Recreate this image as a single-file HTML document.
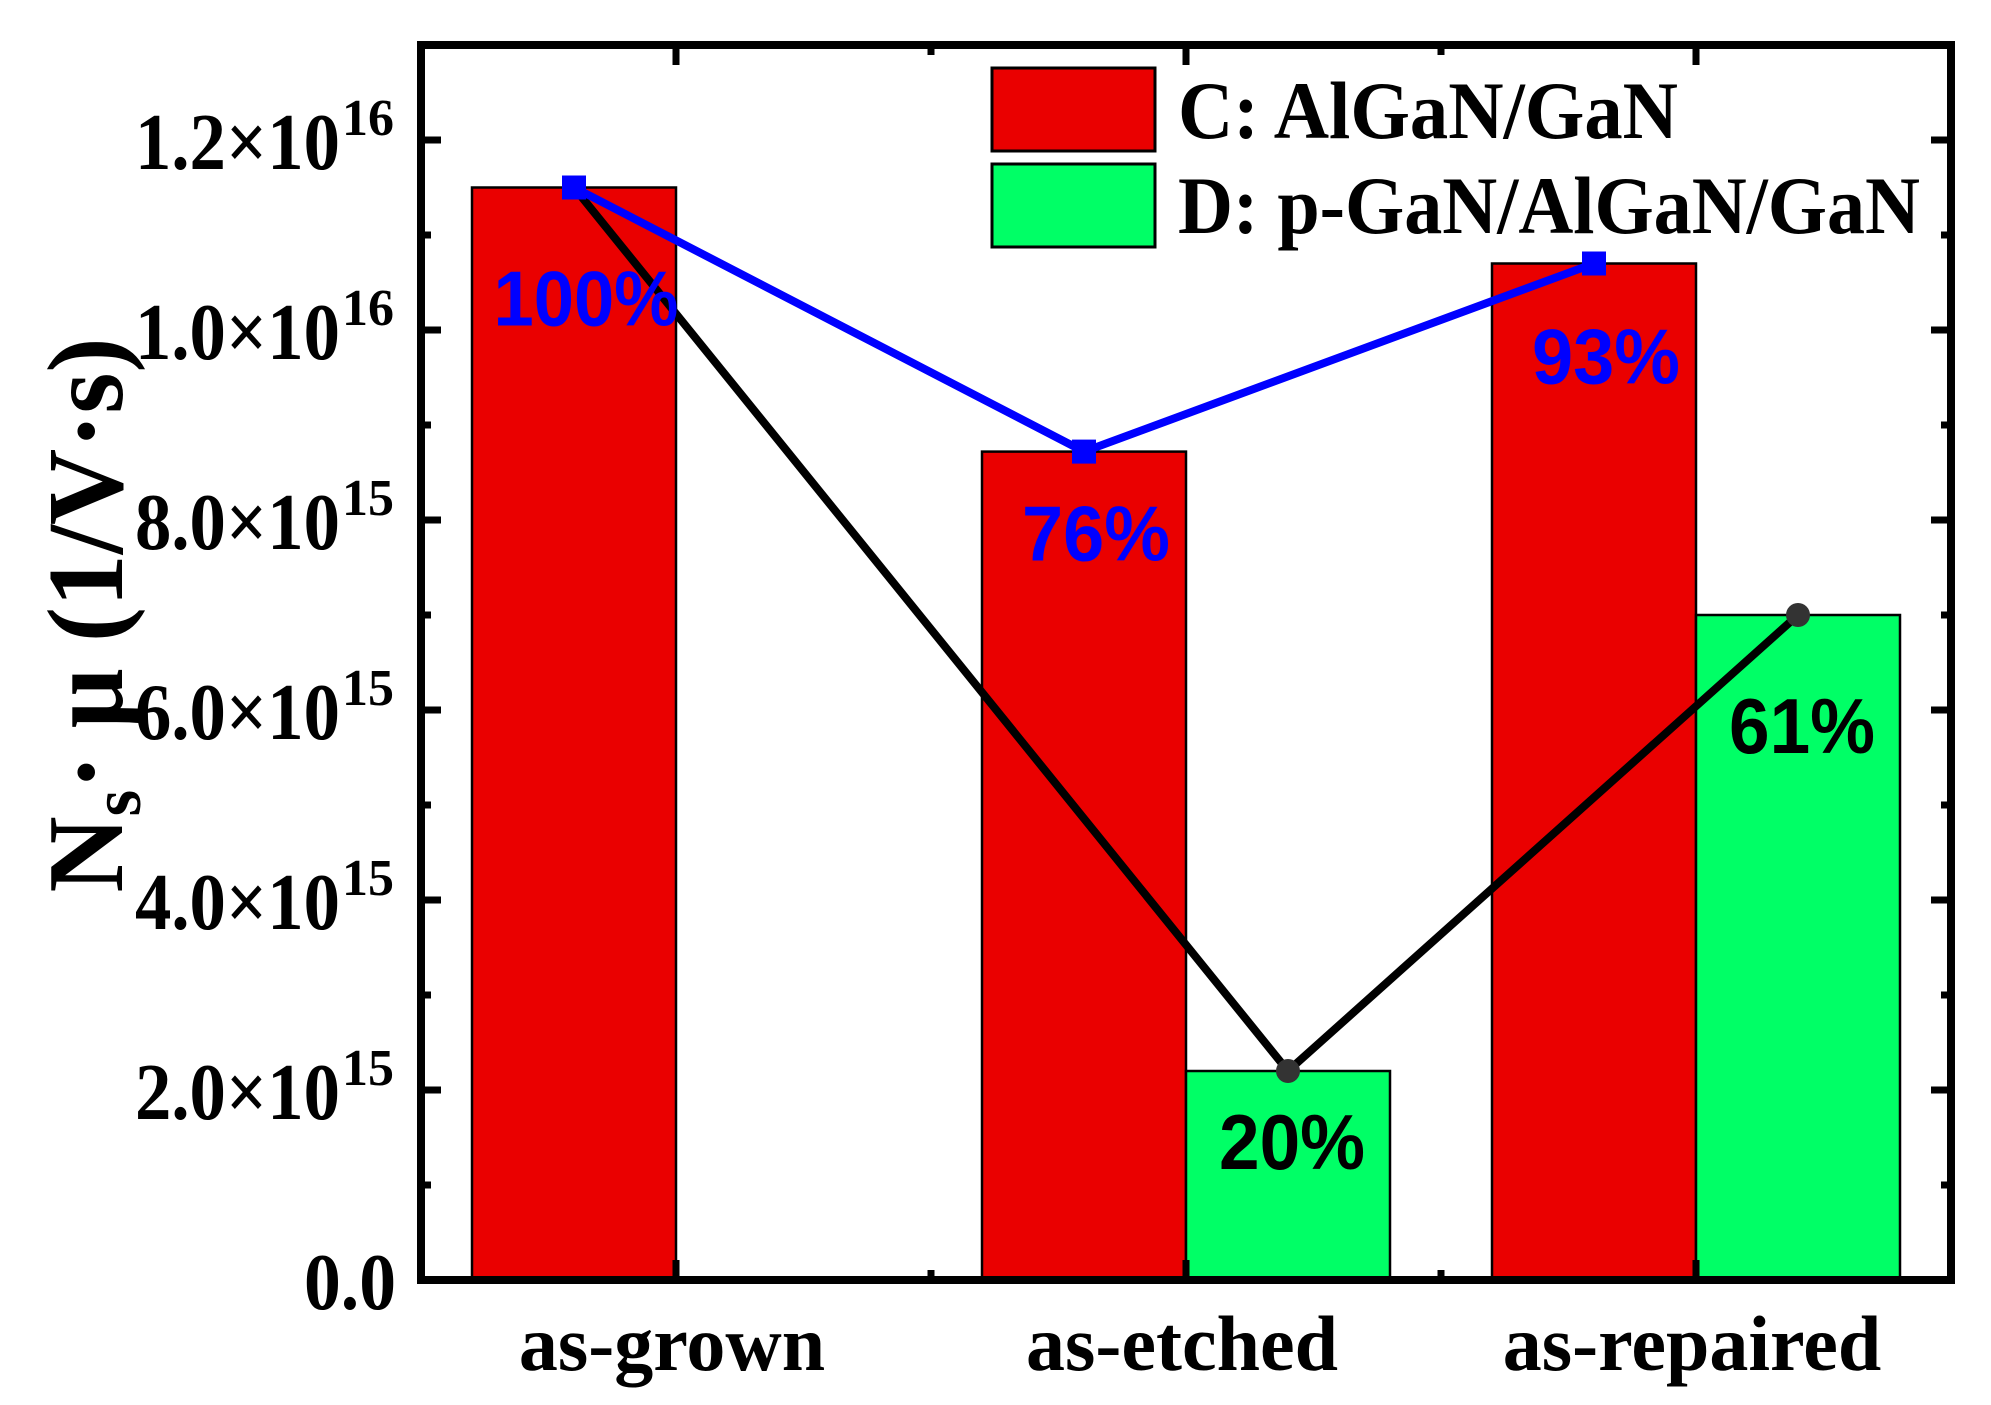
<!DOCTYPE html>
<html><head><meta charset="utf-8">
<style>
html,body{margin:0;padding:0;background:#fff;}
svg{display:block;}
text{font-family:"Liberation Serif",serif;font-weight:bold;}
.pct{font-family:"Liberation Sans",sans-serif;font-weight:bold;}
</style></head>
<body>
<svg id="chart" width="1991" height="1405" viewBox="0 0 1991 1405" xmlns="http://www.w3.org/2000/svg">
<g id="bars"></g>
<g id="lines"></g>
<g id="labels"></g>
<g id="axes"></g>
<g id="legend">
  <rect x="992" y="68" width="163" height="83" fill="#ea0000" stroke="#000" stroke-width="3"/>
  <text x="1178" y="138" font-size="82" textLength="500" lengthAdjust="spacingAndGlyphs">C: AlGaN/GaN</text>
  <rect x="992" y="164" width="163" height="83" fill="#00ff66" stroke="#000" stroke-width="3"/>
  <text x="1178" y="233" font-size="82" textLength="742" lengthAdjust="spacingAndGlyphs">D: p-GaN/AlGaN/GaN</text>
</g>
<text transform="translate(122,615) rotate(-90)" text-anchor="middle" font-size="108" textLength="555" lengthAdjust="spacingAndGlyphs">N<tspan font-size="70" dy="18">s</tspan><tspan dy="-18">· μ (1/V·s)</tspan></text>
</svg>
<script>
const categories = ["as-grown", "as-etched", "as-repaired"];
const seriesC = [11.5e15, 8.72e15, 10.7e15];
const seriesD = [null, 2.2e15, 7.0e15];
const blueLine = [11.5e15, 8.72e15, 10.7e15];
const blackLine = [11.5e15, 2.2e15, 7.0e15];
const blackLineSide = ["C", "D", "D"];
const pctBlue = ["100%", "76%", "93%"];
const pctBlack = [null, "20%", "61%"];
const yTicks = [0, 2e15, 4e15, 6e15, 8e15, 1e16, 1.2e16];
const yTickLabels = ["0.0", "2.0×10", "4.0×10", "6.0×10", "8.0×10", "1.0×10", "1.2×10"];
const yTickExp = ["", "15", "15", "15", "15", "16", "16"];

const NS = "http://www.w3.org/2000/svg";
const L = 421, R = 1951, T = 45, B = 1280;
const xMin = 0.5, xMax = 3.5, yMax = 1.3e16;
const blueLabelDy = [138, 109, 120];
const blackLabelDy = [0, 98, 138];
function x(v){ return L + (v - xMin) / (xMax - xMin) * (R - L); }
function y(v){ return B - v / yMax * (B - T); }
function mk(tag, attrs, parent){ const e = document.createElementNS(NS, tag); for (const k in attrs) e.setAttribute(k, attrs[k]); parent.appendChild(e); return e; }
const bw = 0.4;
const gBars = document.getElementById('bars');
categories.forEach((c, i) => {
  const cx = i + 1;
  const rc = mk('rect', {x: x(cx - bw), y: y(seriesC[i]), width: x(cx) - x(cx - bw), height: B - y(seriesC[i]), fill: '#ea0000', stroke: '#000', 'stroke-width': 2.5}, gBars);
  
  
  if (seriesD[i] !== null) {
    const rd = mk('rect', {x: x(cx), y: y(seriesD[i]), width: x(cx + bw) - x(cx), height: B - y(seriesD[i]), fill: '#00ff66', stroke: '#000', 'stroke-width': 2.5}, gBars);
    
    
  }
});
const gLines = document.getElementById('lines');
const bluePts = blueLine.map((v, i) => [x(i + 1 - bw / 2), y(v)]);
const blackPts = blackLine.map((v, i) => [x(i + 1 + (blackLineSide[i] === 'C' ? -bw / 2 : bw / 2)), y(v)]);
const blk = mk('polyline', {points: blackPts.map(p => p.join(',')).join(' '), fill: 'none', stroke: '#000', 'stroke-width': 8}, gLines);


blackPts.forEach((p, i) => { if (i > 0) { const c = mk('circle', {cx: p[0], cy: p[1], r: 12, fill: '#333'}, gLines);
  
   } });
const blu = mk('polyline', {points: bluePts.map(p => p.join(',')).join(' '), fill: 'none', stroke: '#0000ff', 'stroke-width': 8}, gLines);


bluePts.forEach(p => { const s = mk('rect', {x: p[0] - 12, y: p[1] - 12, width: 24, height: 24, fill: '#0000ff'}, gLines);
  
   });
const gLab = document.getElementById('labels');
pctBlue.forEach((t, i) => {
  const tx = mk('text', {x: x(i + 1 - bw / 2) + 12, y: y(blueLine[i]) + blueLabelDy[i], 'text-anchor': 'middle', 'font-size': 78, fill: '#0000ff', class: 'pct', textLength: t.length === 4 ? 185 : 148, lengthAdjust: 'spacingAndGlyphs'}, gLab);
  tx.textContent = t;
  
  
});
pctBlack.forEach((t, i) => {
  if (t === null) return;
  const tx = mk('text', {x: x(i + 1 + bw / 2) + 4, y: y(blackLine[i]) + blackLabelDy[i], 'text-anchor': 'middle', 'font-size': 78, fill: '#000', class: 'pct', textLength: 146, lengthAdjust: 'spacingAndGlyphs'}, gLab);
  tx.textContent = t;
  
  
});
const gAx = document.getElementById('axes');
const frame = mk('rect', {x: L, y: T, width: R - L, height: B - T, fill: 'none', stroke: '#000', 'stroke-width': 8}, gAx);


for (let k = 0; k <= 13; k++) {
  const v = k * 1e15, len = (k % 2 === 0) ? 20 : 10, yy = y(v);
  [[L, L + len], [R, R - len]].forEach(pr => { const tk = mk('line', {x1: pr[0], y1: yy, x2: pr[1], y2: yy, stroke: '#000', 'stroke-width': 7}, gAx);
    
     });
}
for (let k = 1; k <= 5; k++) {
  const xv = 0.5 + k * 0.5, len = (k % 2 === 1) ? 20 : 10, xx = x(xv);
  [[B, B - len], [T, T + len]].forEach(pr => { const tk = mk('line', {x1: xx, y1: pr[0], x2: xx, y2: pr[1], stroke: '#000', 'stroke-width': 7}, gAx);
    
     });
}
yTicks.forEach((v, i) => {
  const yy = y(v);
  const tx = mk('text', {x: i === 0 ? 396 : 340, y: yy + 29, 'text-anchor': 'end', 'font-size': 80, textLength: i === 0 ? 92 : 205, lengthAdjust: 'spacingAndGlyphs'}, gAx);
  tx.textContent = yTickLabels[i];
  
  
  if (yTickExp[i]) {
    const ex = mk('text', {x: 342, y: yy - 5, 'font-size': 52}, gAx);
    ex.textContent = yTickExp[i];
    
    
  }
});
categories.forEach((c, i) => {
  const tx = mk('text', {x: x(i + 1) - 4, y: 1370, 'text-anchor': 'middle', 'font-size': 78}, gAx);
  tx.textContent = c;
  
  
});
</script>
</body></html>
